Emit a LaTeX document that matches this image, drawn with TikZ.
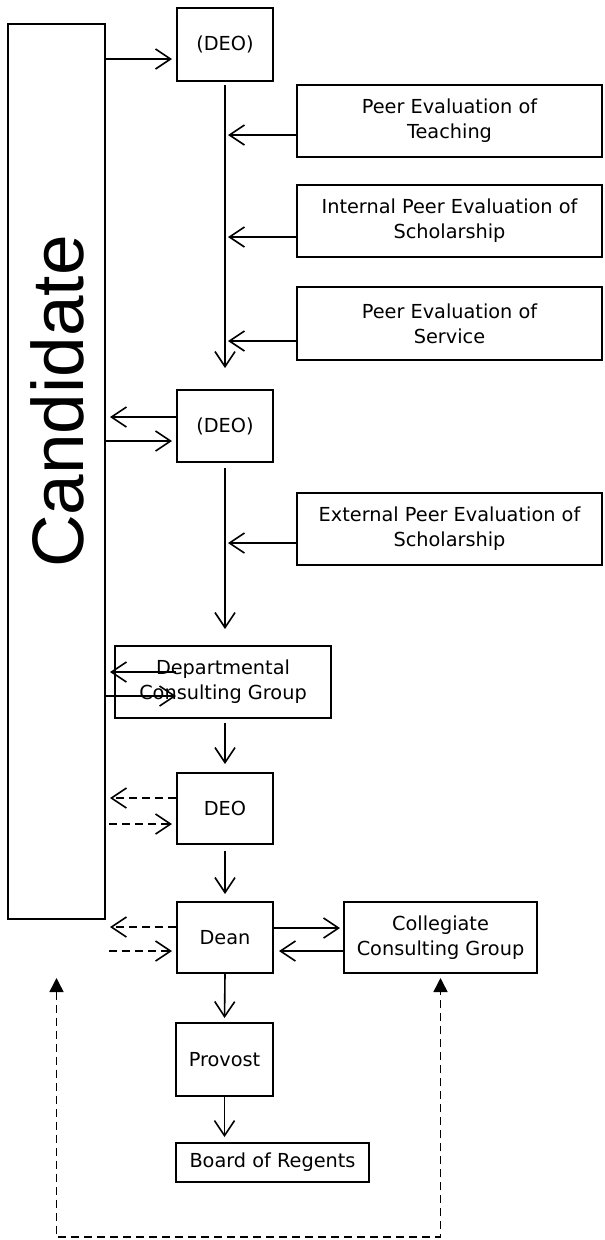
\documentclass[tikz,border=0pt]{standalone}
\usepackage{fontspec}
\setmainfont{DejaVu Sans}
\newfontfamily\candfont{Liberation Sans}
\usetikzlibrary{arrows.meta}

\begin{document}
\begin{tikzpicture}[x=1pt, y=-1pt,
  every node/.style={draw, rectangle, line width=2pt, inner sep=0pt, align=center, font=\fontsize{19.3}{25}\selectfont},
  flow/.style={line width=1.6pt, -{Straight Barb[length=15pt,width=20pt]}},
  back/.style={flow, dash pattern=on 8pt off 5pt},
  loopline/.style={line width=1.6pt, dash pattern=on 8pt off 5pt, {Triangle[length=14pt,width=14pt]}-{Triangle[length=14pt,width=14pt]}}]
\useasboundingbox (0,0) rectangle (605,1240);
\node[minimum width=97pt, minimum height=895pt] (cand) at (56.5,471.5) {};
\node[draw=none, rotate=90, font=\candfont\fontsize{73}{73}\selectfont] (candtext) at (57,401.5) {Candidate};
\node[minimum width=96pt, minimum height=73pt] (deo1) at (225,44.5) {(DEO)};
\node[minimum width=305pt, minimum height=72pt] (teach) at (449.5,121) {Peer Evaluation of\\Teaching};
\node[minimum width=305pt, minimum height=72pt] (intsch) at (449.5,221) {Internal Peer Evaluation of\\Scholarship};
\node[minimum width=305pt, minimum height=73pt] (serv) at (449.5,323.5) {Peer Evaluation of\\Service};
\node[minimum width=96pt, minimum height=72pt] (deo2) at (225,426) {(DEO)};
\node[minimum width=305pt, minimum height=72pt] (extsch) at (449.5,529) {External Peer Evaluation of\\Scholarship};
\node[minimum width=216pt, minimum height=72pt] (dcg) at (223,682) {Departmental\\Consulting Group};
\node[minimum width=96pt, minimum height=71pt] (deo3) at (225,808.5) {DEO};
\node[minimum width=96pt, minimum height=71pt] (dean) at (225,937.5) {Dean};
\node[minimum width=193pt, minimum height=71pt] (ccg) at (440.5,937.5) {Collegiate\\Consulting Group};
\node[minimum width=97pt, minimum height=73pt] (prov) at (224.5,1059.5) {Provost};
\node[minimum width=193pt, minimum height=39pt] (bor) at (272.5,1162.5) {Board of Regents};
\coordinate (loopbase) at (56.5,1237);
% first round
\draw[flow, shorten >=4pt] ([yshift=-14.5pt]deo1.west -| cand.east) -- ([yshift=-14.5pt]deo1.west);
\draw[flow, shorten <=3pt, shorten >=21pt] (deo1.south) -- (deo2.north);
\draw[flow, shorten >=3pt] ([yshift=-14pt]teach.west) -- ([yshift=-14pt]teach.west -| deo1.south);
\draw[flow, shorten >=3pt] ([yshift=-16pt]intsch.west) -- ([yshift=-16pt]intsch.west -| deo1.south);
\draw[flow, shorten >=3pt] ([yshift=-17.5pt]serv.west) -- ([yshift=-17.5pt]serv.west -| deo1.south);
% second round
\draw[flow, shorten >=4pt] ([yshift=9pt]deo2.west) -- ([yshift=9pt]deo2.west -| cand.east);
\draw[flow, shorten >=4pt] ([yshift=-15pt]deo2.west -| cand.east) -- ([yshift=-15pt]deo2.west);
\draw[flow, shorten <=5pt, shorten >=16pt] (deo2.south) -- (dcg.north -| deo2.south);
\draw[flow, shorten >=3pt] ([yshift=-14pt]extsch.west) -- ([yshift=-14pt]extsch.west -| deo2.south);
% consulting group
\draw[flow, shorten >=4pt] ([yshift=10pt]dcg.center -| deo2.west) -- ([yshift=10pt]dcg.center -| cand.east);
\draw[flow] ([yshift=-14pt]dcg.center -| cand.east) -- ([yshift=-14pt]dcg.center -| deo2.west);
\draw[flow, shorten <=4pt, shorten >=8pt] (dcg.south -| deo3.north) -- (deo3.north);
\draw[back, shorten >=4pt] ([yshift=10.5pt]deo3.west) -- ([yshift=10.5pt]deo3.west -| cand.east);
\draw[back, shorten <=3pt, shorten >=4pt] ([yshift=-15.5pt]deo3.west -| cand.east) -- ([yshift=-15.5pt]deo3.west);
\draw[flow, shorten <=6pt, shorten >=7pt] (deo3.south) -- (dean.north);
% dean and above
\draw[back, shorten >=4pt] ([yshift=10.5pt]dean.west) -- ([yshift=10.5pt]dean.west -| cand.east);
\draw[back, shorten <=3pt, shorten >=4pt] ([yshift=-13.5pt]dean.west -| cand.east) -- ([yshift=-13.5pt]dean.west);
\draw[flow, shorten >=3pt] ([yshift=9.5pt]dean.east) -- ([yshift=9.5pt]dean.east -| ccg.west);
\draw[flow, shorten >=5pt] ([yshift=-13.5pt]ccg.west) -- ([yshift=-13.5pt]ccg.west -| dean.east);
\draw[flow, shorten >=4pt] (dean.south) -- (prov.north);
\draw[flow, shorten >=5pt] (prov.south) -- (prov.south |- bor.north);
\draw[loopline, shorten <=58pt, shorten >=4pt] (cand.south) -- (loopbase) -| (ccg.south);
\end{tikzpicture}
\end{document}
